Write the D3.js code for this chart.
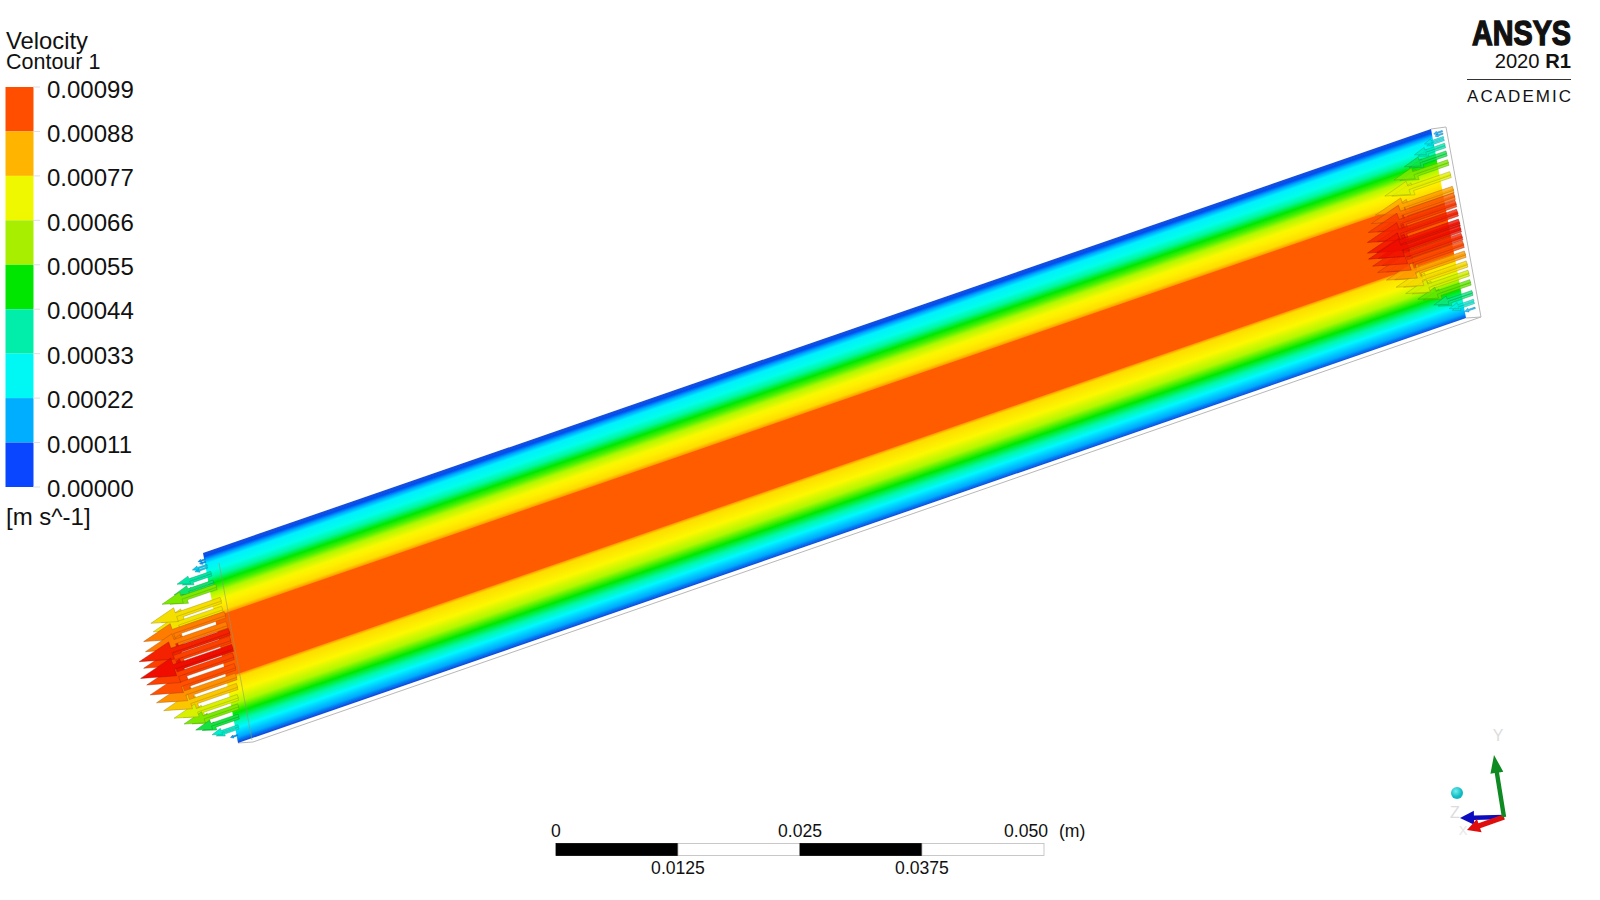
<!DOCTYPE html>
<html><head><meta charset="utf-8">
<script src="https://cdn.jsdelivr.net/npm/d3@7/dist/d3.min.js"></script>
<style>html,body{margin:0;padding:0;background:#fff;overflow:hidden}svg{display:block}text{font-family:"Liberation Sans",Arial,sans-serif;fill:#111}</style>
</head><body><svg id="c" width="1600" height="900"></svg>
<script>
// ---------- data ----------
const legendTicks = ["0.00099","0.00088","0.00077","0.00066","0.00055","0.00044","0.00033","0.00022","0.00011","0.00000"];
const legendColors = ["#ff4e00","#ffb400","#f0f800","#a8ee00","#00e600","#00eeaa","#00f8f4","#00aeff","#0a46ff"];
const bandPositions = [0,.021,.038,.058,.1,.132,.166,.19,.215,.257,.28,.315,.333,.338,.655,.66,.672,.738,.796,.846,.887,.923,.97,.995,1];
const bandColors = ["#1a4fd8","#0050f0","#00a8ff","#00f0ff","#00ffe8","#00f8a0","#00e800","#48f000","#b0f800","#f8f800","#fff000","#ffdc00","#ffa000","#ff5c00","#ff5c00","#ffa000","#ffdc00","#fcf800","#b0f800","#00e800","#00f8a8","#00f8ff","#00a8ff","#0a50e0","#1a4fd8"];
const inletT = [.035,.066,.11,.158,.184,.259,.305,.337,.39,.429,.469,.514,.557,.612,.662,.713,.768,.814,.864,.915,.96];
const inletV = [.00008,.00017,.00039,.00045,.00062,.0008,.00079,.00093,.00093,.00103,.00099,.00105,.00099,.00097,.00091,.00084,.00073,.00062,.00049,.0003,.00008];
const outletT = [.03,.063,.1,.142,.19,.254,.333,.368,.407,.455,.508,.54,.582,.622,.675,.727,.775,.824,.88,.925,.965];
const outletV = [.0001,.00022,.00035,.00048,.00062,.00075,.00089,.00095,.001,.00103,.00105,.00105,.00102,.00098,.0009,.00081,.00072,.0006,.00044,.00028,.00012];
const arrowStops = [0,.0001,.00025,.0004,.00055,.00066,.00077,.00088,.00097,.00105];
const arrowColors = ["#0a46ff","#00aeff","#00f0e0","#00e8a0","#20e000","#b0f000","#f0f000","#ffb000","#ff5000","#f01000"];
const scaleTicks = [0,.0125,.025,.0375,.05];
const scaleTop = ["0","0.025","0.050"], scaleTopV = [0,.025,.05];
const scaleBottom = ["0.0125","0.0375"], scaleBottomV = [.0125,.0375];

// ---------- geometry ----------
const P0=[203,553], P1=[238,743], P2=[1431,129], P3=[1466,318];
const svg=d3.select("#c");
const axisLen=Math.hypot(P2[0]-P0[0],P2[1]-P0[1]);
const ax=[(P2[0]-P0[0])/axisLen,(P2[1]-P0[1])/axisLen];
const perp=[-ax[1],ax[0]];
const W=(P1[0]-P0[0])*perp[0]+(P1[1]-P0[1])*perp[1];
const u=[-ax[0],-ax[1]];
const defs=svg.append("defs");
const g=defs.append("linearGradient").attr("id","flow").attr("gradientUnits","userSpaceOnUse")
 .attr("x1",P0[0]).attr("y1",P0[1]).attr("x2",P0[0]+perp[0]*W).attr("y2",P0[1]+perp[1]*W);
const pos=d3.scaleLinear().domain([0,1]).range([0,100]);
g.selectAll("stop").data(bandPositions).join("stop").attr("offset",d=>pos(d)+"%").attr("stop-color",(d,i)=>bandColors[i]);
defs.append("filter").attr("id","soft").attr("x","-5%").attr("y","-5%").attr("width","110%").attr("height","110%").append("feGaussianBlur").attr("stdDeviation",.5);
const sph=defs.append("radialGradient").attr("id","sph").attr("cx","40%").attr("cy","35%");
sph.append("stop").attr("offset","0%").attr("stop-color","#70f0f0");
sph.append("stop").attr("offset","100%").attr("stop-color","#10b8c0");

// outline box behind
const ln=d3.line();
svg.append("path").attr("d",ln([P1,[253,742],[1481,317],[1446,127],P2])).attr("fill","none").attr("stroke","#b8b8b8").attr("stroke-width",1);
svg.append("path").attr("d",ln([[1481,317],P3])).attr("fill","none").attr("stroke","#b8b8b8").attr("stroke-width",1);
// pipe
svg.append("path").attr("d",ln([P0,P2,P3,P1])+"Z").attr("fill","url(#flow)").attr("filter","url(#soft)");
svg.append("path").attr("d",ln([[219,563],[252,740]])).attr("stroke","#8a9a70").attr("stroke-opacity",.55).attr("fill","none");

// arrows
const vmax=.00105;
const lenScale=d3.scaleLinear().domain([0,vmax]).range([0,97]);
const arrowColor=d3.scaleLinear().domain(arrowStops).range(arrowColors).clamp(true);
function arrowPath(lenVal,tail){
  const tip=[tail[0]+u[0]*lenVal,tail[1]+u[1]*lenVal];
  const h=Math.max(3,lenVal*.36), hw=lenVal*.085+1, sw=lenVal*.02+.5;
  const b=[tip[0]-u[0]*h,tip[1]-u[1]*h];
  return ln([[tail[0]+perp[0]*sw,tail[1]+perp[1]*sw],[b[0]+perp[0]*sw,b[1]+perp[1]*sw],[b[0]+perp[0]*hw,b[1]+perp[1]*hw],tip,
   [b[0]-perp[0]*hw,b[1]-perp[1]*hw],[b[0]-perp[0]*sw,b[1]-perp[1]*sw],[tail[0]-perp[0]*sw,tail[1]-perp[1]*sw]])+"Z";
}
function faceAt(A,B,t){return [A[0]+(B[0]-A[0])*t,A[1]+(B[1]-A[1])*t];}
const arrowLayer=svg.append("g").attr("filter","url(#soft)");
function drawArrows(ts,vs,A,B,tailShift,shrink,dt,op){
  const order=d3.range(ts.length).sort((a,b)=>vs[a]-vs[b]);
  arrowLayer.append("g").selectAll("path").data(order).join("path")
   .attr("d",i=>{const L=lenScale(vs[i])*shrink;const f=faceAt(A,B,ts[i]+dt);const s=tailShift(vs[i]);
     return arrowPath(L,[f[0]+u[0]*s,f[1]+u[1]*s]);})
   .attr("fill",i=>arrowColor(vs[i])).attr("fill-opacity",op)
   .attr("stroke",i=>d3.color(arrowColor(vs[i])).darker(1.2)).attr("stroke-opacity",.6).attr("stroke-width",.7);
}
const inShift=v=>-12*v/vmax, outShift=v=>-11;
drawArrows(inletT.slice(0,-1),inletV.slice(0,-1),P0,P1,inShift,.86,.013,1);
drawArrows(inletT,inletV,P0,P1,inShift,1,0,1);
drawArrows(outletT.slice(0,-1),outletV.slice(0,-1),P2,P3,outShift,.9,.013,.8);
drawArrows(outletT,outletV,P2,P3,outShift,1,0,.8);

// legend
const legendY=d3.scaleLinear().domain([0,9]).range([87,487]);
const labelY=d3.scaleLinear().domain([0,9]).range([97.5,497]);
const lg=svg.append("g");
lg.selectAll("rect").data(legendColors).join("rect").attr("x",5.5).attr("width",28).attr("y",(d,i)=>legendY(i)).attr("height",(d,i)=>legendY(i+1)-legendY(i)).attr("fill",d=>d);
lg.selectAll("line").data(legendTicks).join("line").attr("x1",33).attr("x2",40).attr("y1",(d,i)=>legendY(i)).attr("y2",(d,i)=>legendY(i)).attr("stroke","#ddd");
lg.selectAll("text").data(legendTicks).join("text").attr("x",47).attr("y",(d,i)=>labelY(i)).attr("font-size",24).text(d=>d);
svg.append("text").attr("x",6).attr("y",49).attr("font-size",23.8).text("Velocity");
svg.append("text").attr("x",6).attr("y",69).attr("font-size",21.5).text("Contour 1");
svg.append("text").attr("x",6).attr("y",525).attr("font-size",24).text("[m s^-1]");

// logo
svg.append("text").attr("x",1472).attr("y",45).attr("font-size",35).attr("textLength",99).attr("lengthAdjust","spacingAndGlyphs")
  .attr("font-weight","bold").style("font-family","'Liberation Sans Narrow','Liberation Sans'").attr("stroke","#111").attr("stroke-width",1.4).text("ANSYS");
const yr=svg.append("text").attr("x",1571).attr("y",68).attr("text-anchor","end").attr("font-size",20.2);
yr.append("tspan").text("2020 ");yr.append("tspan").attr("font-weight","bold").text("R1");
svg.append("line").attr("x1",1467).attr("x2",1571).attr("y1",79.5).attr("y2",79.5).attr("stroke","#333");
svg.append("text").attr("x",1467).attr("y",102).attr("font-size",17).attr("textLength",104).attr("lengthAdjust","spacing").style("font-family","'Liberation Sans Narrow','Liberation Sans'").text("ACADEMIC");

// scale bar
const sx=d3.scaleLinear().domain([0,.05]).range([556,1044]);
const bars=d3.pairs(scaleTicks);
svg.append("g").selectAll("rect").data(bars).join("rect").attr("x",d=>sx(d[0])).attr("width",d=>sx(d[1])-sx(d[0])).attr("y",843.5).attr("height",12)
  .attr("fill",(d,i)=>i%2?"#fff":"#000").attr("stroke",(d,i)=>i%2?"#bbb":"#000").attr("stroke-width",.8);
svg.append("g").selectAll("text").data(scaleTop).join("text").attr("x",(d,i)=>i===2?sx(scaleTopV[i])-18:sx(scaleTopV[i])).attr("y",837).attr("text-anchor","middle").attr("font-size",17.6).text(d=>d);
svg.append("g").selectAll("text").data(scaleBottom).join("text").attr("x",(d,i)=>sx(scaleBottomV[i])).attr("y",874).attr("text-anchor","middle").attr("font-size",17.6).text(d=>d);
svg.append("text").attr("x",1059).attr("y",837).attr("font-size",17.6).text("(m)");

// triad
const O=[1504,817];
const tri=svg.append("g").attr("filter","url(#soft)");
function triad(e,col,hw,hl,sw){
  const L=Math.hypot(e[0]-O[0],e[1]-O[1]), d=[(e[0]-O[0])/L,(e[1]-O[1])/L], n=[-d[1],d[0]];
  const b=[e[0]-d[0]*hl,e[1]-d[1]*hl];
  tri.append("path").attr("d",ln([[O[0]+n[0]*sw,O[1]+n[1]*sw],[b[0]+n[0]*sw,b[1]+n[1]*sw],[b[0]+n[0]*hw,b[1]+n[1]*hw],e,[b[0]-n[0]*hw,b[1]-n[1]*hw],[b[0]-n[0]*sw,b[1]-n[1]*sw],[O[0]-n[0]*sw,O[1]-n[1]*sw]])+"Z").attr("fill",col);
}
triad([1460,818],"#1010c0",7,14,2.2);
triad([1467,830],"#e01010",7,13,2.6);
triad([1494,755],"#108a20",6.5,18,2.2);
svg.append("circle").attr("cx",1457).attr("cy",793).attr("r",6).attr("fill","url(#sph)");
svg.append("text").attr("x",1498).attr("y",741).attr("text-anchor","middle").attr("font-size",16).style("fill","#dcdcdc").text("Y");
svg.append("text").attr("x",1455).attr("y",818).attr("text-anchor","middle").attr("font-size",16).style("fill","#dcdcdc").text("Z");
svg.append("text").attr("x",1463).attr("y",835).attr("text-anchor","middle").attr("font-size",13).style("fill","#e6e6e6").text("X");
</script></body></html>
